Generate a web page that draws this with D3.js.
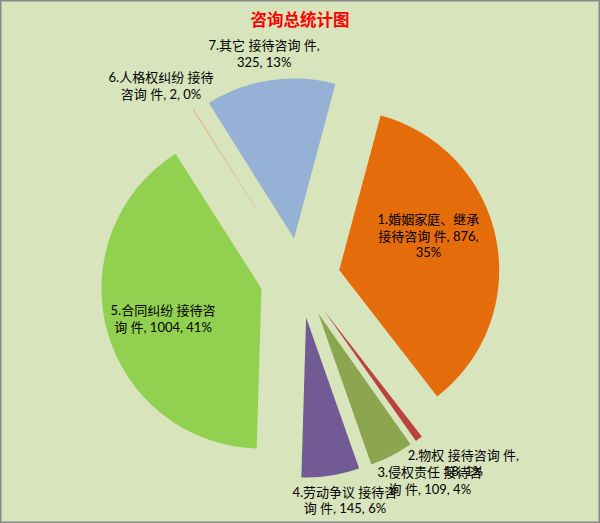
<!DOCTYPE html>
<html><head><meta charset="utf-8">
<script src="https://cdn.jsdelivr.net/npm/d3@7"></script>
<style>html,body{margin:0;padding:0;background:#fff;}svg{display:block;}</style>
</head><body>
<script>
// ---- data ----
const title = "咨询总统计图";
const categories = [
  "1.婚姻家庭、继承 接待咨询 件",
  "2.物权 接待咨询 件",
  "3.侵权责任 接待咨询 件",
  "4.劳动争议 接待咨询 件",
  "5.合同纠纷 接待咨询 件",
  "6.人格权纠纷 接待咨询 件",
  "7.其它 接待咨询 件"
];
const values = [876, 18, 109, 145, 1004, 2, 325];
const colors = ["#E46C0A", "#B9443F", "#8BA64E", "#725A94", "#92D050", "#E8A062", "#95B1D5"];

// ---- layout ----
const W = 600, H = 523;
const cx = 300, cy = 278, R = 160, explode = 40;
const startDeg = 15;
// chars per wrapped line (remainder goes to last line)
const lineLens = [[9, 12], [12], [10], [10], [10], [10], [12]];
// label centre in polar coords about pie centre: [bearing deg, radius]
const labelPolar = [[72, 135], [138.6, 247], [147.4, 241], [168.6, 227], [253.3, 143], [324.1, 237], [350.9, 227]];

const svg = d3.select("body").append("svg").attr("width", W).attr("height", H);
svg.append("rect").attr("x", 0).attr("y", 0).attr("width", W).attr("height", H).attr("fill", "#D8E4BC");
svg.append("rect").attr("x", 0.75).attr("y", 0.75).attr("width", W - 1.5).attr("height", H - 1.5)
  .attr("fill", "none").attr("stroke", "#8A8A8A").attr("stroke-width", 1.5);

svg.append("text").attr("x", W / 2).attr("y", 26).attr("text-anchor", "middle")
  .attr("font-family", "'Noto Sans CJK SC', sans-serif").attr("font-weight", "bold")
  .attr("font-size", 16.5).attr("fill", "#FF0000").text(title);

const total = d3.sum(values);
const rad = Math.PI / 180;
const pie = d3.pie().sort(null).value(d => d)
  .startAngle(startDeg * rad).endAngle((startDeg + 360) * rad);
const arcs = pie(values);
const arc = d3.arc().innerRadius(0).outerRadius(R);

const g = svg.append("g").attr("transform", `translate(${cx},${cy})`);
g.selectAll("path").data(arcs).enter().append("path")
  .attr("d", arc)
  .attr("fill", (d, i) => colors[i])
  .attr("transform", d => {
    const [x, y] = d3.pointRadial((d.startAngle + d.endAngle) / 2, explode);
    return `translate(${x},${y})`;
  });

// labels
const pct = v => Math.round(v / total * 100) + "%";
function wrap(str, lens) {
  const out = [];
  let s = str;
  lens.forEach(n => { out.push(s.slice(0, n)); s = s.slice(n).replace(/^ /, ""); });
  out.push(s);
  return out;
}
const lg = svg.append("g").attr("transform", `translate(${cx},${cy})`);
arcs.forEach((d, i) => {
  const full = `${categories[i]}, ${values[i]}, ${pct(values[i])}`;
  const lines = wrap(full, lineLens[i]);
  const [x, y] = d3.pointRadial(labelPolar[i][0] * rad, labelPolar[i][1]);
  const lh = 16.5;
  const t = lg.append("text").attr("text-anchor", "middle")
    .attr("font-family", "Lato, 'Noto Sans CJK SC', sans-serif")
    .attr("font-size", 13).attr("fill", "#000");
  lines.forEach((ln, k) => {
    t.append("tspan").attr("x", x)
      .attr("y", y + (k - (lines.length - 1) / 2) * lh + 4.5)
      .text(ln);
  });
});
</script>
</body></html>
